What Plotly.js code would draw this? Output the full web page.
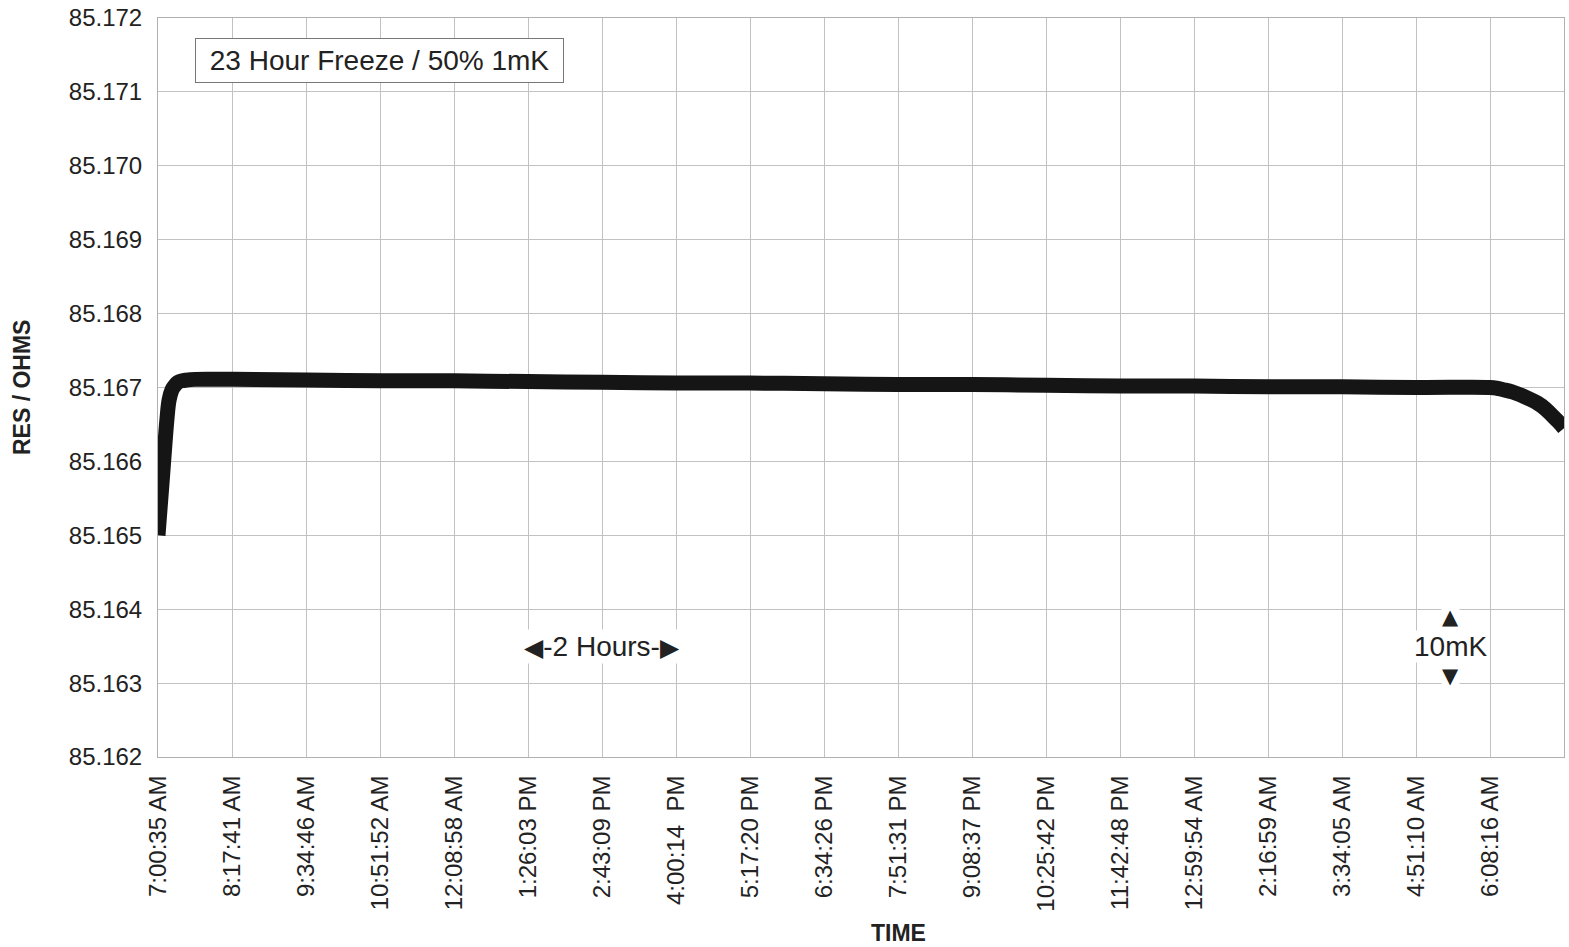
<!DOCTYPE html>
<html>
<head>
<meta charset="utf-8">
<script src="https://cdn.plot.ly/plotly-3.0.1.min.js"></script>
<style>html,body{margin:0;padding:0;background:#fff;}#chart{width:1569px;height:947px;}</style>
</head>
<body>
<div id="chart"></div>
<script>
// x positions in units of tick intervals (each interval ≈ 1:17:06)
const timeX = [0, 0.06, 0.12, 0.15, 0.19, 0.23, 0.27, 0.32, 0.38, 0.5, 1, 2, 3, 4, 5, 6, 7, 8, 9, 10, 11, 12, 13, 14, 15, 16, 17, 18, 18.09, 18.18, 18.3, 18.41, 18.52, 18.64, 18.75, 18.85, 18.93, 19.0];
const resOhms = [85.16500, 85.16578, 85.16656, 85.16683, 85.16697, 85.16703, 85.16707, 85.16709, 85.16710, 85.16711, 85.16711, 85.16710, 85.16709, 85.16709, 85.16708, 85.16707, 85.16706, 85.16706, 85.16705, 85.16704, 85.16704, 85.16703, 85.16702, 85.16702, 85.16701, 85.16701, 85.16700, 85.16700, 85.16699, 85.16697, 85.16694, 85.16690, 85.16685, 85.16679, 85.16671, 85.16661, 85.16653, 85.16645];
const tickPos = [0,1,2,3,4,5,6,7,8,9,10,11,12,13,14,15,16,17,18,19];
const tickLabels = ["7:00:35 AM","8:17:41 AM","9:34:46 AM","10:51:52 AM","12:08:58 AM","1:26:03 PM","2:43:09 PM","4:00:14  PM","5:17:20 PM","6:34:26 PM","7:51:31 PM","9:08:37 PM","10:25:42 PM","11:42:48 PM","12:59:54 AM","2:16:59 AM","3:34:05 AM","4:51:10 AM","6:08:16 AM",""];
const yTicks = [85.162,85.163,85.164,85.165,85.166,85.167,85.168,85.169,85.170,85.171,85.172];

const font = "Liberation Sans, Arial, sans-serif";
const symFont = "DejaVu Sans, sans-serif";
const trace = {
  x: timeX, y: resOhms, type: 'scatter', mode: 'lines',
  line: {color: '#151515', width: 15, shape: 'spline', smoothing: 1},
  hoverinfo: 'skip'
};
const layout = {
  width: 1569, height: 947,
  margin: {l: 158, r: 5, t: 18, b: 190},
  paper_bgcolor: '#fff', plot_bgcolor: '#fff',
  showlegend: false,
  font: {family: font, color: '#222'},
  xaxis: {
    range: [0, 19], tickmode: 'array', tickvals: tickPos, ticktext: tickLabels,
    tickangle: -90, tickfont: {size: 24, family: font, color: '#222'},
    showgrid: true, gridcolor: '#c2c2c2', gridwidth: 1,
    showline: true, linecolor: '#b0b0b0', linewidth: 1, mirror: true,
    ticks: '', zeroline: false, ticklabelstandoff: 8
  },
  yaxis: {
    range: [85.162, 85.172], tickmode: 'array', tickvals: yTicks,
    ticktext: yTicks.map(v => v.toFixed(3)),
    tickfont: {size: 24, family: font, color: '#222'},
    showgrid: true, gridcolor: '#c2c2c2', gridwidth: 1,
    showline: true, linecolor: '#b0b0b0', linewidth: 1, mirror: true,
    ticks: '', zeroline: false, ticklabelstandoff: 10
  },
  annotations: [
    {xref: 'paper', yref: 'paper', x: (22-158)/1406, y: (757-388)/739, xanchor: 'center', yanchor: 'middle',
     text: '<b>RES / OHMS</b>', textangle: -90, showarrow: false,
     font: {size: 23, family: font, color: '#222'}},
    {xref: 'paper', yref: 'paper', x: (898-158)/1406, y: -(933-757)/739, xanchor: 'center', yanchor: 'middle',
     text: '<b>TIME</b>', showarrow: false,
     font: {size: 23, family: font, color: '#222'}},
    {xref: 'x', yref: 'y', x: 0.5, y: 85.17143, xanchor: 'left', yanchor: 'middle',
     text: '&nbsp;23 Hour Freeze / 50% 1mK&nbsp;', showarrow: false,
     font: {size: 28, family: font, color: '#222'},
     bgcolor: '#fff', bordercolor: '#777', borderwidth: 1, borderpad: 6},
    {xref: 'x', yref: 'y', x: 6.0, y: 85.16349, xanchor: 'center', yanchor: 'middle',
     text: '<span style="font-family:DejaVu Sans;font-size:25px">◀</span>-2 Hours-<span style="font-family:DejaVu Sans;font-size:25px">▶</span>', showarrow: false,
     font: {size: 28, family: font, color: '#222'}, bgcolor: '#fff'},
    {xref: 'x', yref: 'y', x: 17.47, y: 85.16349, xanchor: 'center', yanchor: 'middle',
     text: '10mK', showarrow: false,
     font: {size: 28, family: font, color: '#222'}, bgcolor: '#fff', borderpad: 0},
    {xref: 'x', yref: 'y', x: 17.47, y: 85.16390, xanchor: 'center', yanchor: 'middle',
     text: '▲', showarrow: false,
     font: {size: 21, family: symFont, color: '#222'}, bgcolor: '#fff', borderpad: 0},
    {xref: 'x', yref: 'y', x: 17.47, y: 85.16309, xanchor: 'center', yanchor: 'middle',
     text: '▼', showarrow: false,
     font: {size: 21, family: symFont, color: '#222'}, bgcolor: '#fff', borderpad: 0}
  ]
};
Plotly.newPlot('chart', [trace], layout, {displayModeBar: false, staticPlot: true});
</script>
</body>
</html>
